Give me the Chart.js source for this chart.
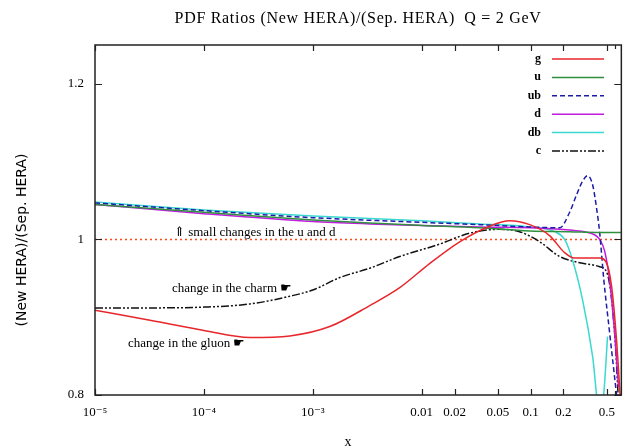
<!DOCTYPE html>
<html>
<head>
<meta charset="utf-8">
<script src="https://cdn.jsdelivr.net/npm/chart.js@4.4.1/dist/chart.umd.min.js"></script>
<style>
  html, body { margin: 0; padding: 0; background: #fff; }
  #c { display: block; }
</style>
</head>
<body>
<canvas id="c" width="625" height="448"></canvas>
<script>
// values (x is log scale)
const xTicks = [1e-5, 1e-4, 1e-3, 0.01, 0.02, 0.05, 0.1, 0.2, 0.5];
const xTickLabels = ["10\u207B\u2075", "10\u207B\u2074", "10\u207B\u00B3", "0.01", "0.02", "0.05", "0.1", "0.2", "0.5"];
const xMinorTicks = [0.6];
const yTicks = [0.8, 1, 1.2];
const yTickLabels = ["0.8", "1", "1.2"];

const gX = [1e-5, 3.2e-5, 1e-4, 2.64e-4, 6.15e-4, 1.43e-3, 3.33e-3, 6.28e-3, 0.0118, 0.0223, 0.042, 0.064, 0.098, 0.149, 0.205, 0.253, 0.348, 0.43, 0.488, 0.553, 0.615, 0.669];
const gY = [0.909, 0.896, 0.883, 0.874, 0.876, 0.888, 0.915, 0.938, 0.969, 0.997, 1.017, 1.024, 1.019, 1.005, 0.983, 0.976, 0.976, 0.976, 0.972, 0.94, 0.87, 0.79];

const uX = [1e-5, 1e-4, 1e-3, 3.33e-3, 0.01, 0.034, 0.098, 0.228, 0.43, 0.68];
const uY = [1.045, 1.035, 1.025, 1.021, 1.018, 1.015, 1.011, 1.010, 1.009, 1.009];

const ubX = [1e-5, 1e-4, 1e-3, 0.01, 0.034, 0.098, 0.185, 0.228, 0.265, 0.3, 0.333, 0.371, 0.403, 0.43, 0.468, 0.531, 0.615];
const ubY = [1.047, 1.037, 1.028, 1.022, 1.019, 1.016, 1.015, 1.035, 1.058, 1.075, 1.082, 1.07, 1.04, 1.009, 0.95, 0.88, 0.80];

const dX = [1e-5, 1e-4, 1e-3, 3.33e-3, 0.01, 0.034, 0.098, 0.228, 0.386, 0.43, 0.478, 0.531, 0.59, 0.641];
const dY = [1.045, 1.033, 1.023, 1.020, 1.018, 1.016, 1.015, 1.012, 1.006, 1.0, 0.985, 0.947, 0.88, 0.81];

const dbX = [1e-5, 1e-4, 1e-3, 0.01, 0.034, 0.098, 0.166, 0.205, 0.243, 0.3, 0.371, 0.43, 0.468, 0.508];
const dbY = [1.048, 1.038, 1.030, 1.024, 1.020, 1.016, 1.010, 1.0, 0.973, 0.922, 0.849, 0.775, 0.80, 0.875];

const cX = [1e-5, 3.2e-5, 1e-4, 2.64e-4, 6.15e-4, 1e-3, 1.77e-3, 3.33e-3, 6.28e-3, 0.0146, 0.0275, 0.052, 0.079, 0.121, 0.185, 0.282, 0.43, 0.508, 0.59, 0.641];
const cY = [0.912, 0.912, 0.913, 0.917, 0.927, 0.935, 0.951, 0.963, 0.978, 0.994, 1.008, 1.013, 1.010, 0.997, 0.978, 0.970, 0.965, 0.955, 0.88, 0.79];

const refX = [1e-5, 0.68];
const refY = [1, 1];

const pts = (xs, ys) => xs.map((x, i) => ({ x, y: ys[i] }));

const series = [
  { label: "g",  data: pts(gX, gY),   borderColor: "#e8262b", borderDash: [] },
  { label: "u",  data: pts(uX, uY),   borderColor: "#2f8f3f", borderDash: [] },
  { label: "ub", data: pts(ubX, ubY), borderColor: "#1c1ca8", borderDash: [5, 3] },
  { label: "d",  data: pts(dX, dY),   borderColor: "#c21be0", borderDash: [] },
  { label: "db", data: pts(dbX, dbY), borderColor: "#3ad8d0", borderDash: [] },
  { label: "c",  data: pts(cX, cY),   borderColor: "#111111", borderDash: [8, 2, 2, 2, 2, 2] },
];

const SERIF = "'Liberation Serif', 'DejaVu Serif', serif";

// frame, inward ticks, title, legend and notes
const decor = {
  id: "decor",
  afterDatasetsDraw(chart) {
    const { ctx, chartArea: a, scales: { x, y } } = chart;
    ctx.save();
    ctx.strokeStyle = "#222";
    ctx.lineWidth = 1.5;
    ctx.strokeRect(a.left, a.top, a.right - a.left, a.bottom - a.top);

    ctx.lineWidth = 1.2;
    ctx.beginPath();
    xTicks.concat(xMinorTicks).forEach(v => {
      const px = Math.round(x.getPixelForValue(v)) + 0.5;
      const len = xMinorTicks.includes(v) ? 4 : 6;
      ctx.moveTo(px, a.bottom); ctx.lineTo(px, a.bottom - len);
      ctx.moveTo(px, a.top); ctx.lineTo(px, a.top + len);
    });
    yTicks.forEach(v => {
      const py = Math.round(y.getPixelForValue(v)) + 0.5;
      ctx.moveTo(a.left, py); ctx.lineTo(a.left + 7, py);
      ctx.moveTo(a.right, py); ctx.lineTo(a.right - 7, py);
    });
    ctx.stroke();

    // title
    ctx.fillStyle = "#000";
    ctx.font = "16px " + SERIF;
    ctx.letterSpacing = "0.7px";
    ctx.textAlign = "center";
    ctx.textBaseline = "middle";
    ctx.fillText("PDF Ratios (New HERA)/(Sep. HERA)  Q = 2 GeV", 358, 19);
    ctx.letterSpacing = "0px";

    // y axis title
    ctx.save();
    ctx.translate(22, 240);
    ctx.rotate(-Math.PI / 2);
    ctx.font = "14px 'DejaVu Sans', sans-serif";
    ctx.fillText("(New HERA)/(Sep. HERA)", 0, 0);
    ctx.restore();

    // x axis title
    ctx.font = "14px " + SERIF;
    ctx.fillText("x", 348, 442);

    // legend
    ctx.font = "bold 12px " + SERIF;
    ctx.textAlign = "right";
    chart.data.datasets.slice(0, 6).forEach((ds, i) => {
      const ly = 59 + i * 18.4;
      ctx.fillStyle = "#000";
      ctx.fillText(ds.label, 541, ly);
      ctx.strokeStyle = ds.borderColor;
      ctx.lineWidth = 1.5;
      ctx.setLineDash(ds.borderDash);
      ctx.beginPath();
      ctx.moveTo(552, ly); ctx.lineTo(604, ly);
      ctx.stroke();
      ctx.setLineDash([]);
    });

    // notes
    ctx.fillStyle = "#000";
    ctx.textAlign = "left";
    ctx.font = "13px " + SERIF;
    ctx.fillText("\u21D1 small changes in the u and d", 174, 233);
    ctx.fillText("change in the charm \u261B", 172, 289);
    ctx.fillText("change in the gluon \u261B", 128, 344);
    ctx.restore();
  }
};

new Chart(document.getElementById("c").getContext("2d"), {
  type: "line",
  data: {
    datasets: [
      ...series.map(s => ({
        label: s.label, data: s.data, borderColor: s.borderColor, borderDash: s.borderDash,
        borderWidth: 1.5, pointRadius: 0, fill: false, cubicInterpolationMode: "monotone",
      })),
      { label: "ref", data: pts(refX, refY), borderColor: "#ff4a1c", borderDash: [2, 3], borderWidth: 1.5, pointRadius: 0 },
    ],
  },
  options: {
    responsive: false, animation: false, devicePixelRatio: 1,
    layout: { padding: { top: 45, right: 3, left: 0, bottom: 0 } },
    plugins: { legend: { display: false }, title: { display: false }, tooltip: { enabled: false } },
    scales: {
      x: {
        type: "logarithmic", min: 1e-5, max: 0.68,
        grid: { display: false, drawTicks: false }, border: { display: false },
        afterBuildTicks: s => { s.ticks = xTicks.map(v => ({ value: v })); },
        afterFit: s => { s.height = 53; },
        ticks: {
          autoSkip: false, maxRotation: 0, padding: 10, color: "#000",
          font: { family: SERIF, size: 13 },
          callback: (v) => xTickLabels[xTicks.indexOf(v)] ?? "",
        },
      },
      y: {
        min: 0.8, max: 1.25,
        grid: { display: false, drawTicks: false }, border: { display: false },
        afterBuildTicks: s => { s.ticks = yTicks.map(v => ({ value: v })); },
        afterFit: s => { s.width = 95; },
        ticks: {
          padding: 11, color: "#000",
          font: { family: SERIF, size: 13 },
          callback: (v) => yTickLabels[yTicks.indexOf(v)] ?? "",
        },
      },
    },
  },
  plugins: [decor],
});
</script>
</body>
</html>
